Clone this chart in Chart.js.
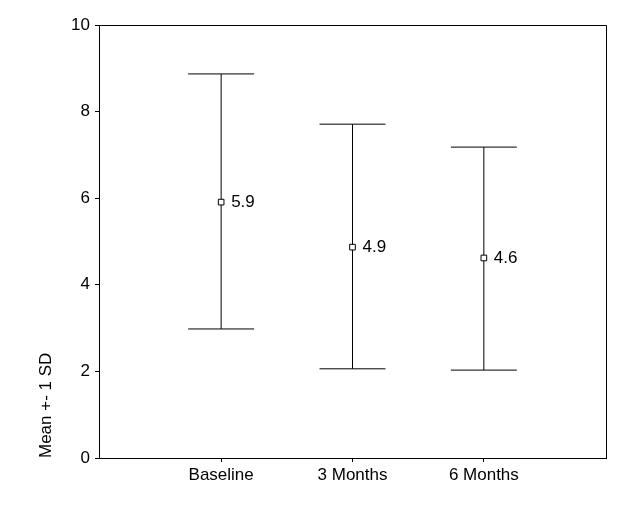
<!DOCTYPE html>
<html>
<head>
<meta charset="utf-8">
<script src="https://cdn.jsdelivr.net/npm/chart.js@4/dist/chart.umd.min.js"></script>
<style>
    body { margin: 0; background: #fff; }
    #wrap { width: 632px; height: 505px; }
</style>
</head>
<body>
<div id="wrap"><canvas id="sdChart" width="632" height="505"></canvas></div>
<script>
const groups = ['Baseline', '3 Months', '6 Months'];
const means = [5.91, 4.87, 4.62];
const lower = [2.98, 2.06, 2.03];
const upper = [8.87, 7.71, 7.18];
const yTicks = [0, 2, 4, 6, 8, 10];
const xPos = [1, 2, 3];

Chart.defaults.font.family = "'Liberation Sans', Arial, sans-serif";
Chart.defaults.font.size = 17;
Chart.defaults.color = '#000';

// box round the plot
const frame = {
    id: 'frame',
    afterDatasetsDraw(chart) {
        const a = chart.chartArea, c = chart.ctx;
        c.save();
        c.strokeStyle = '#000';
        c.lineWidth = 1;
        c.beginPath();
        c.moveTo(a.left, a.top + 0.5);
        c.lineTo(a.right + 0.5, a.top + 0.5);
        c.lineTo(a.right + 0.5, a.bottom);
        c.stroke();
        c.restore();
    }
};

// "5.9" etc next to the means
const meanLabels = {
    id: 'meanLabels',
    afterDatasetsDraw(chart) {
        const c = chart.ctx;
        const meta = chart.getDatasetMeta(0);
        c.save();
        c.fillStyle = '#000';
        c.font = "17px 'Liberation Sans', Arial, sans-serif";
        c.textAlign = 'left';
        c.textBaseline = 'middle';
        meta.data.forEach((pt, i) => {
            c.fillText(means[i].toFixed(1), pt.x + 10, pt.y);
        });
        c.restore();
    }
};

const datasets = [{
    label: 'Mean',
    type: 'scatter',
    data: xPos.map((x, i) => ({x: x, y: means[i]})),
    pointStyle: 'rect',
    pointRadius: 4,
    pointHoverRadius: 4,
    backgroundColor: '#fff',
    borderColor: '#000',
    borderWidth: 1
}];

groups.forEach((g, i) => {
    datasets.push({
        label: g,
        type: 'scatter',
        showLine: true,
        data: [{x: xPos[i], y: lower[i]}, {x: xPos[i], y: upper[i]}],
        borderColor: '#000',
        borderWidth: 1,
        pointStyle: 'line',
        pointRadius: 33,
        pointHoverRadius: 33,
        pointBorderColor: '#000',
        pointBorderWidth: 1
    });
});

const ctx = document.getElementById('sdChart');
new Chart(ctx, {
    type: 'scatter',
    data: { datasets: datasets },
    options: {
        responsive: false,
        animation: false,
        layout: {
            autoPadding: false,
            padding: { left: 32, top: 25, right: 26, bottom: 0 }
        },
        plugins: {
            legend: { display: false },
            tooltip: { enabled: false }
        },
        scales: {
            x: {
                type: 'linear',
                min: 0.07,
                max: 3.93,
                afterBuildTicks: (s) => { s.ticks = xPos.map(v => ({value: v})); },
                afterFit: (s) => { s.height = 47; },
                ticks: {
                    padding: 3,
                    color: '#000',
                    callback: (v) => groups[xPos.indexOf(v)]
                },
                grid: {
                    drawOnChartArea: false,
                    tickLength: 4,
                    color: '#000'
                },
                border: { color: '#000', width: 1 }
            },
            y: {
                min: 0,
                max: 10,
                afterBuildTicks: (s) => { s.ticks = yTicks.map(v => ({value: v})); },
                afterFit: (s) => { s.width = 67; },
                ticks: {
                    padding: 5,
                    color: '#000'
                },
                grid: {
                    drawOnChartArea: false,
                    tickLength: 4,
                    color: '#000'
                },
                border: { color: '#000', width: 1 },
                title: {
                    display: true,
                    text: 'Mean +- 1 SD',
                    align: 'start',
                    color: '#000',
                    font: { size: 17 },
                    padding: { top: 4, bottom: 4 }
                }
            }
        }
    },
    plugins: [frame, meanLabels]
});
</script>
</body>
</html>
